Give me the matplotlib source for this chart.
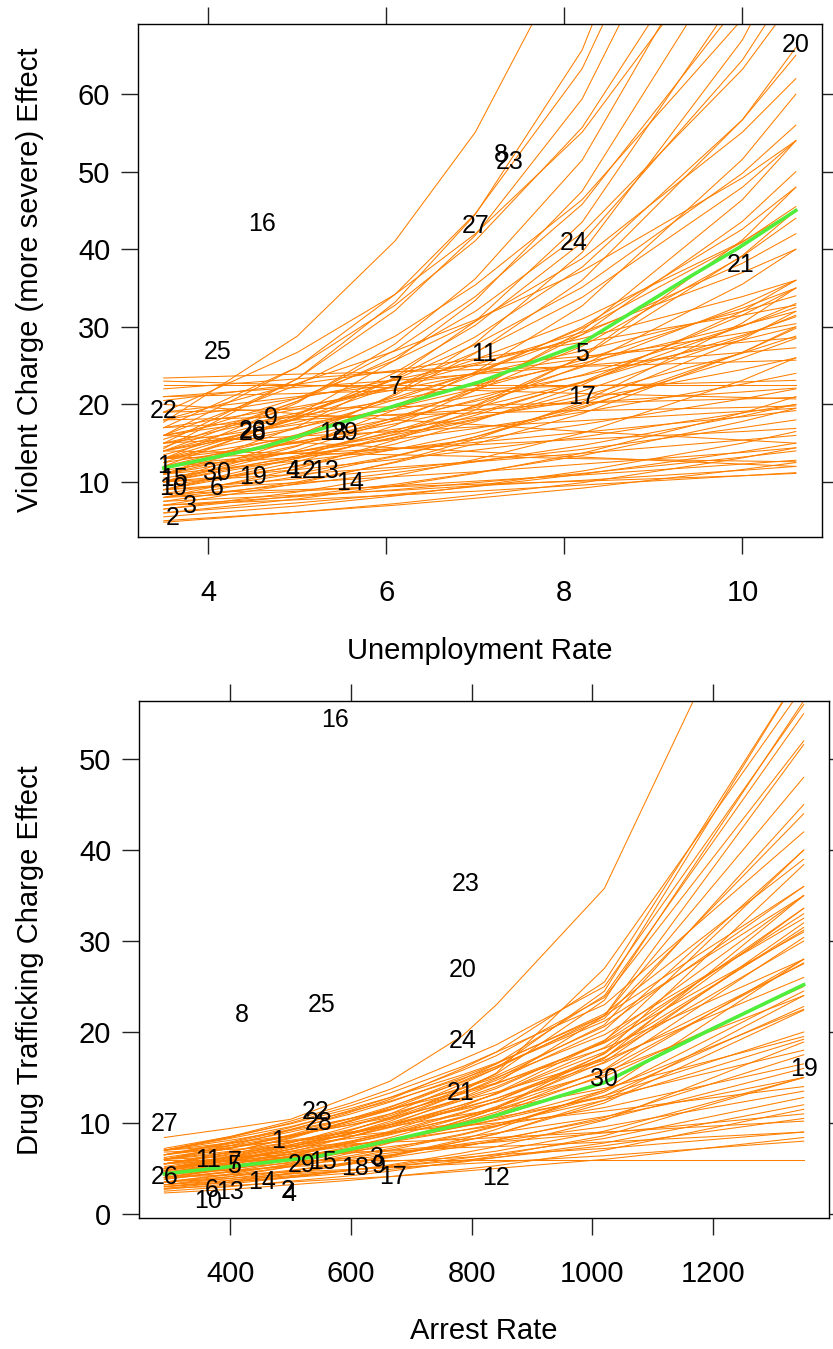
import matplotlib
matplotlib.use("Agg")
import matplotlib.pyplot as plt

plt.rcParams["font.family"] = ["Liberation Sans", "DejaVu Sans"]

draw_color = "#FF7F00"
mean_color = "#4FEE3C"

# ---- panel 1: unemployment rate vs violent charge effect ----
unemp_grid = [3.5, 5.0, 6.1, 7.0, 8.2, 10.0, 10.6]

violent_draws = [
    [17.7, 28.8, 41.1, 55.1, 81.3, 145.5, 177],
    [14.3, 23.3, 33.2, 44.5, 65.7, 117.5, 143],
    [16, 24.8, 34.2, 44.6, 63.3, 107.2, 128],
    [15, 23.3, 32.1, 41.8, 59.4, 100.5, 120],
    [13, 20.2, 27.8, 36.2, 51.5, 87.1, 104],
    [17, 24.8, 32.8, 41.1, 55.7, 87.6, 102],
    [12, 18.6, 25.7, 33.4, 47.5, 80.4, 96],
    [14, 20.4, 27.0, 33.9, 45.8, 72.2, 84],
    [19, 26.7, 34.2, 42.0, 55.1, 82.8, 95],
    [11, 17.1, 23.5, 30.7, 43.5, 73.7, 88],
    [16, 22.5, 28.8, 35.4, 46.4, 69.7, 80],
    [12.5, 18.2, 24.1, 30.2, 40.9, 64.4, 75],
    [10, 15.5, 21.4, 27.9, 39.6, 67.0, 80],
    [14.5, 20.4, 26.1, 32.0, 42.1, 63.2, 72.5],
    [13, 18.3, 23.4, 28.7, 37.7, 56.7, 65],
    [11, 16.0, 21.2, 26.6, 36.0, 56.7, 66],
    [10, 14.6, 19.3, 24.2, 32.7, 51.6, 60],
    [15.5, 20.8, 25.7, 30.7, 38.8, 55.1, 62],
    [14, 18.7, 23.2, 27.7, 35.1, 49.8, 56],
    [9, 13.1, 17.3, 21.8, 29.5, 46.4, 54],
    [13.5, 18.1, 22.4, 26.7, 33.8, 48.0, 54],
    [18, 22.7, 26.9, 30.9, 37.2, 49.2, 54],
    [10, 14.1, 18.0, 22.1, 29.0, 43.6, 50],
    [12, 16.1, 19.9, 23.8, 30.0, 42.6, 48],
    [11, 14.7, 18.3, 21.8, 27.5, 39.1, 44],
    [15, 18.9, 22.4, 25.8, 31.0, 41.0, 45],
    [13, 16.9, 20.6, 24.1, 29.8, 40.9, 45.5],
    [9, 12.6, 16.2, 19.9, 26.1, 39.2, 45],
    [16, 19.4, 22.4, 25.1, 29.3, 37.0, 40],
    [10, 13.4, 16.6, 19.8, 25.0, 35.5, 40],
    [14, 17.7, 20.9, 24.1, 29.0, 38.2, 42],
    [8, 11.7, 15.4, 19.3, 26.2, 41.2, 48],
    [12, 15.1, 17.9, 20.6, 24.8, 32.8, 36],
    [11, 13.9, 16.4, 18.9, 22.8, 30.1, 33],
    [10, 13.0, 15.8, 18.6, 22.9, 31.5, 35],
    [9, 12.1, 14.9, 17.8, 22.5, 32.0, 36],
    [8, 10.7, 13.3, 15.8, 20.0, 28.4, 32],
    [13, 15.8, 18.2, 20.4, 23.8, 30.1, 32.5],
    [14, 17.0, 19.6, 22.0, 25.7, 32.4, 35],
    [15, 17.4, 19.3, 21.1, 23.7, 28.3, 30],
    [17, 19.7, 21.9, 23.9, 26.9, 32.0, 34],
    [18, 20.8, 23.2, 25.3, 28.5, 33.9, 36],
    [16, 18.5, 20.6, 22.5, 25.3, 30.2, 32],
    [19, 21.0, 22.6, 24.0, 25.9, 29.2, 30.4],
    [20.5, 22.6, 24.4, 25.9, 28.0, 31.5, 32.8],
    [9.5, 12.0, 14.2, 16.3, 19.7, 26.0, 28.5],
    [8.5, 11.1, 13.4, 15.8, 19.5, 26.7, 29.8],
    [7.5, 10.0, 12.5, 14.9, 18.8, 26.7, 30],
    [11.5, 13.9, 16.1, 18.1, 21.1, 26.6, 28.8],
    [12.5, 15.2, 17.5, 19.6, 22.9, 28.9, 31.3],
    [7, 9.8, 12.6, 15.5, 20.3, 30.5, 35],
    [10.5, 13.2, 15.7, 18.0, 21.7, 28.7, 31.5],
    [13, 15.0, 16.8, 18.3, 20.6, 24.5, 26],
    [22, 23.3, 24.2, 25.0, 26.2, 28.0, 28.6],
    [21, 22.2, 23.1, 23.9, 25.0, 26.7, 27.3],
    [23.4, 23.9, 24.2, 24.5, 24.9, 25.5, 25.7],
    [6.5, 8.7, 10.8, 12.9, 16.3, 23.1, 26],
    [20, 18.8, 18.0, 17.4, 16.5, 15.4, 15],
    [16, 15.1, 14.4, 13.9, 13.2, 12.3, 12],
    [14, 13.7, 13.5, 13.3, 13.0, 12.7, 12.6],
    [5, 6.1, 7.0, 7.9, 9.2, 11.6, 12.5],
    [5.5, 6.9, 8.2, 9.5, 11.4, 15.0, 16.5],
    [6, 7.3, 8.4, 9.4, 11.0, 13.9, 15],
    [6.5, 8.2, 9.7, 11.2, 13.4, 17.8, 19.5],
    [7, 8.1, 9.0, 9.9, 11.1, 13.2, 14],
    [7.5, 8.3, 8.9, 9.5, 10.2, 11.5, 12],
    [8, 8.8, 9.5, 10.1, 10.9, 12.3, 12.8],
    [8, 9.7, 11.2, 12.6, 14.7, 18.5, 20],
    [9, 10.4, 11.6, 12.7, 14.2, 17.0, 18],
    [9, 9.9, 10.7, 11.3, 12.3, 13.8, 14.4],
    [10, 11.6, 12.9, 14.1, 15.8, 18.9, 20],
    [10, 11.0, 11.9, 12.6, 13.7, 15.4, 16],
    [11, 12.7, 14.2, 15.5, 17.4, 20.7, 22],
    [12, 13.2, 14.3, 15.1, 16.4, 18.4, 19.2],
    [12, 13.9, 15.5, 16.9, 19.0, 22.6, 24],
    [13, 13.7, 14.3, 14.8, 15.5, 16.5, 16.9],
    [15, 15.9, 16.5, 17.1, 17.9, 19.1, 19.5],
    [17, 18.0, 18.7, 19.3, 20.2, 21.6, 22.1],
    [18, 18.4, 18.6, 18.9, 19.2, 19.6, 19.8],
    [19, 19.4, 19.7, 19.9, 20.2, 20.7, 20.9],
    [21, 21.4, 21.8, 22.0, 22.4, 22.9, 23.1],
    [22.5, 22.5, 22.5, 22.5, 22.5, 22.5, 22.5],
    [4.8, 6.1, 7.2, 8.3, 9.9, 13.1, 14.4],
    [6, 7.8, 9.5, 11.1, 13.7, 18.9, 21],
    [23, 22.5, 22.1, 21.8, 21.4, 20.9, 20.7],
    [7, 7.7, 8.3, 8.8, 9.6, 10.8, 11.2],
    [8.5, 9.0, 9.4, 9.7, 10.1, 10.8, 11.1],
]

violent_mean_x = [3.5, 4.62, 5.37, 6.12, 7.05, 8.17, 9.4, 9.96, 10.6]
violent_mean_y = [11.8, 14.5, 17.2, 19.9, 22.9, 27.7, 36.4, 40.2, 45.0]

state_ids = [str(i) for i in range(1, 31)]
unemp = [3.5, 3.6, 3.8, 4.95, 8.2, 4.09, 6.1, 7.29, 4.7, 3.6,
         7.1, 5.05, 5.31, 5.59, 3.61, 4.6, 8.2, 5.4, 4.5, 10.6,
         9.98, 3.5, 7.39, 8.1, 4.1, 4.5, 7.0, 4.5, 5.53, 4.1]
violent = [12.1, 5.4, 6.9, 11.4, 26.5, 9.2, 22.3, 52.2, 18.2, 9.2,
           26.5, 11.4, 11.4, 9.9, 10.4, 43.2, 20.9, 16.3, 10.6, 66.4,
           38.0, 19.1, 51.3, 40.8, 26.8, 16.6, 43.0, 16.3, 16.3, 11.2]

# ---- panel 2: arrest rate vs drug trafficking charge effect ----
arrest_grid = [291, 400, 500, 600, 665, 785, 841, 1020, 1350]

drug_draws = [
    [8.4, 9.4, 10.4, 12.9, 14.6, 19.6, 23.0, 35.8, 82],
    [7.0, 7.8, 8.6, 9.8, 10.8, 13.5, 15.5, 27.0, 58],
    [6, 7.5, 9.2, 11.2, 12.6, 16.0, 17.8, 25.5, 60],
    [5, 6.3, 7.8, 9.6, 11.0, 14.3, 16.0, 24.5, 60],
    [7, 8.5, 10.2, 12.2, 13.7, 17.0, 18.6, 25.0, 56],
    [4.7, 5.9, 7.3, 9.2, 10.6, 13.8, 15.4, 23.5, 56.4],
    [5.5, 6.8, 8.4, 10.3, 11.7, 14.8, 16.5, 24.0, 55],
    [4.3, 5.4, 6.8, 8.5, 9.8, 12.8, 14.4, 21.8, 51.6],
    [6.5, 7.9, 9.5, 11.4, 12.8, 15.8, 17.4, 23.8, 52],
    [6, 7.2, 8.7, 10.5, 11.8, 14.5, 16.0, 21.8, 48],
    [4, 5.1, 6.3, 7.9, 9.1, 11.8, 13.3, 19.0, 40],
    [5.5, 6.8, 8.3, 10.2, 11.5, 14.6, 16.2, 21.5, 44],
    [7, 8.4, 10.0, 11.9, 13.3, 16.2, 17.8, 23.0, 42],
    [4.5, 5.7, 7.1, 8.9, 10.2, 13.3, 14.9, 20.8, 45],
    [5, 6.2, 7.6, 9.2, 10.5, 13.3, 14.7, 20.2, 40],
    [6.5, 7.8, 9.3, 11.0, 12.3, 15.1, 16.5, 22.0, 39],
    [5, 6.1, 7.4, 8.9, 10.0, 12.5, 13.8, 19.1, 35],
    [6, 7.2, 8.6, 10.2, 11.4, 13.9, 15.2, 20.6, 36],
    [5.5, 6.6, 7.9, 9.3, 10.4, 12.7, 14.0, 18.9, 33],
    [4.5, 5.5, 6.6, 8.0, 9.0, 11.2, 12.4, 17.2, 31.5],
    [4, 5.0, 6.1, 7.4, 8.4, 10.6, 11.8, 16.7, 32],
    [7, 8.3, 9.6, 11.3, 12.4, 14.9, 16.2, 21.2, 35],
    [6.5, 7.7, 9.0, 10.5, 11.5, 13.8, 15.0, 19.7, 32.5],
    [3.5, 4.4, 5.5, 6.9, 7.9, 10.3, 11.6, 17.1, 35],
    [5, 6.0, 7.1, 8.5, 9.5, 11.6, 12.7, 17.2, 30],
    [3.8, 4.7, 5.7, 7.0, 8.0, 10.1, 11.2, 15.9, 30.4],
    [4.8, 5.9, 7.1, 8.5, 9.6, 12.0, 13.2, 18.3, 33.6],
    [6.2, 7.3, 8.5, 10.0, 11.0, 13.2, 14.3, 18.8, 31],
    [7.2, 8.5, 9.9, 11.6, 12.8, 15.3, 16.6, 21.8, 36],
    [5.2, 6.3, 7.4, 8.8, 9.8, 12.0, 13.2, 17.8, 31.2],
    [3.2, 4.1, 5.2, 6.7, 7.8, 10.3, 11.6, 17.7, 38.4],
    [4.2, 5.2, 6.4, 7.8, 8.8, 11.1, 12.4, 17.6, 33.6],
    [4, 4.9, 5.9, 7.1, 8.0, 10.0, 11.0, 15.3, 28],
    [5, 5.9, 6.9, 8.0, 8.9, 10.6, 11.5, 15.1, 25],
    [6, 6.9, 7.9, 9.0, 9.8, 11.5, 12.3, 15.6, 24],
    [4.5, 5.3, 6.2, 7.2, 8.0, 9.6, 10.4, 13.6, 22.5],
    [3.5, 4.3, 5.2, 6.2, 7.0, 8.7, 9.6, 13.4, 24.5],
    [3, 3.7, 4.5, 5.5, 6.3, 8.0, 8.8, 12.5, 24],
    [5.5, 6.5, 7.6, 8.8, 9.8, 11.7, 12.7, 16.6, 27.5],
    [7, 8.1, 9.2, 10.5, 11.5, 13.4, 14.4, 18.2, 28],
    [4.2, 5.1, 6.0, 7.1, 8.0, 9.7, 10.7, 14.4, 25.2],
    [3.8, 4.6, 5.4, 6.4, 7.2, 8.8, 9.7, 13.0, 22.8],
    [6.5, 7.5, 8.6, 9.8, 10.6, 12.5, 13.4, 16.9, 26],
    [5, 5.8, 6.6, 7.5, 8.2, 9.6, 10.3, 13.0, 20],
    [2.8, 3.5, 4.4, 5.5, 6.4, 8.2, 9.3, 13.6, 28],
    [4.6, 5.5, 6.6, 7.8, 8.7, 10.7, 11.7, 15.8, 27.6],
    [3.2, 3.9, 4.7, 5.7, 6.4, 8.0, 8.8, 12.2, 22.4],
    [4, 4.6, 5.3, 6.0, 6.5, 7.7, 8.2, 10.4, 16],
    [3.5, 4.1, 4.8, 5.6, 6.2, 7.4, 8.1, 10.6, 17.5],
    [5.5, 6.2, 6.8, 7.6, 8.1, 9.2, 9.7, 11.7, 16.5],
    [6, 6.7, 7.5, 8.3, 8.9, 10.0, 10.6, 12.8, 18],
    [3, 3.5, 4.1, 4.8, 5.3, 6.4, 6.9, 9.1, 15],
    [2.5, 3.0, 3.6, 4.2, 4.7, 5.8, 6.4, 8.6, 15],
    [4.5, 5.0, 5.6, 6.2, 6.7, 7.5, 8.0, 9.6, 13.5],
    [6.5, 7.3, 8.1, 9.0, 9.6, 10.9, 11.5, 13.8, 19.5],
    [3, 3.5, 4.0, 4.5, 4.9, 5.7, 6.2, 7.8, 12],
    [5, 5.6, 6.2, 6.9, 7.4, 8.4, 8.9, 10.7, 15],
    [7, 7.5, 8.0, 8.6, 9.0, 9.7, 10.0, 11.3, 14],
    [2.7, 3.3, 4.0, 4.8, 5.4, 6.7, 7.4, 10.3, 18.9],
    [4.8, 5.5, 6.3, 7.2, 7.9, 9.2, 9.9, 12.5, 19.2],
    [6.8, 7.1, 7.4, 7.7, 7.9, 8.2, 8.4, 9.0, 10.2],
    [5.5, 5.9, 6.3, 6.7, 7.0, 7.6, 7.9, 8.9, 11],
    [5.9, 5.9, 5.9, 5.9, 5.9, 5.9, 5.9, 5.9, 5.9],
    [4.5, 4.8, 5.2, 5.5, 5.8, 6.2, 6.5, 7.2, 9],
    [4, 4.3, 4.6, 4.9, 5.1, 5.5, 5.7, 6.4, 8],
    [6, 6.3, 6.5, 6.8, 6.9, 7.3, 7.4, 7.9, 9],
    [3.5, 3.9, 4.4, 4.8, 5.2, 5.9, 6.2, 7.5, 10.5],
    [2.8, 3.1, 3.5, 3.9, 4.1, 4.7, 5.0, 6.0, 8.4],
    [2.3, 2.7, 3.2, 3.7, 4.1, 4.9, 5.3, 7.0, 11.5],
    [3.2, 3.7, 4.2, 4.8, 5.2, 6.1, 6.6, 8.3, 12.8],
]

drug_mean_x = [291, 400, 544, 653, 814, 1018, 1200, 1350]
drug_mean_y = [4.4, 5.2, 6.3, 7.9, 10.3, 14.4, 20.4, 25.2]

arrest = [480, 496, 644, 498, 407, 369, 407, 420, 647, 364,
          364, 841, 400, 453, 554, 574, 669, 607, 1350, 785,
          781, 541, 790, 785, 551, 292, 291, 546, 519, 1020]
drug = [8.0, 2.5, 6.2, 2.2, 5.3, 2.6, 5.7, 21.9, 5.3, 1.4,
        5.9, 4.0, 2.4, 3.5, 5.7, 54.3, 4.1, 5.1, 15.9, 26.8,
        13.3, 11.2, 36.3, 19.0, 23.0, 4.1, 9.9, 10.0, 5.4, 14.8]


def draw_panel(ax, grid, draws, mean_x, mean_y, px, py):
    for d in draws:
        ax.plot(grid, d, color=draw_color, linewidth=0.75, zorder=1)
    ax.plot(mean_x, mean_y, color=mean_color, linewidth=2.6, zorder=2)
    for lab, x, y in zip(state_ids, px, py):
        ax.text(x, y, lab, ha="center", va="center", fontsize=18, zorder=3)
    ax.tick_params(
        direction="out", length=12, width=1, top=True, right=True,
        labeltop=False, labelright=False, labelsize=21, color="#222222",
    )
    ax.tick_params(axis="y", pad=8)
    ax.tick_params(axis="x", pad=18)
    for sp in ax.spines.values():
        sp.set_linewidth(1.0)


W, H = 833, 1349
fig = plt.figure(figsize=(W / 100, H / 100), dpi=100)

ax1 = fig.add_axes([138 / W, 1 - 537 / H, (822 - 138) / W, (537 - 24) / H])
draw_panel(ax1, unemp_grid, violent_draws, violent_mean_x, violent_mean_y,
           unemp, violent)
ax1.set_xlim(3.211, 10.894)
ax1.set_ylim(2.9, 69.05)
ax1.set_xticks([4, 6, 8, 10])
ax1.set_yticks([10, 20, 30, 40, 50, 60])

ax2 = fig.add_axes([139 / W, 1 - 1218 / H, (829 - 139) / W, (1218 - 701) / H])
draw_panel(ax2, arrest_grid, drug_draws, drug_mean_x, drug_mean_y,
           arrest, drug)
ax2.set_xlim(249, 1392)
ax2.set_ylim(-0.45, 56.4)
ax2.set_xticks([400, 600, 800, 1000, 1200])
ax2.set_yticks([0, 10, 20, 30, 40, 50])

fig.text(480 / W, 1 - 651 / H, "Unemployment Rate", ha="center", va="center",
         fontsize=21)
fig.text(484 / W, 1 - 1331 / H, "Arrest Rate", ha="center", va="center",
         fontsize=21)
fig.text(30 / W, 1 - 280 / H, "Violent Charge (more severe) Effect",
         ha="center", va="center", rotation=90, fontsize=21)
fig.text(30 / W, 1 - 960 / H, "Drug Trafficking Charge Effect",
         ha="center", va="center", rotation=90, fontsize=21)

fig.savefig("out.png", dpi=100)
